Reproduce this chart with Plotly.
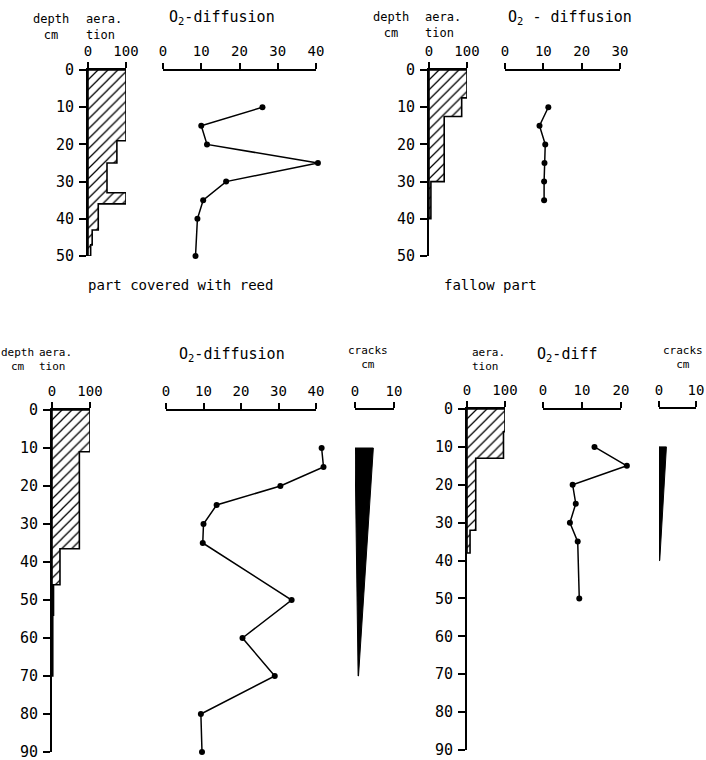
import plotly.graph_objects as go

W, H = 706, 760

# ---------------- data ----------------
depth_ticks_50 = [0, 10, 20, 30, 40, 50]
depth_ticks_90 = [0, 10, 20, 30, 40, 50, 60, 70, 80, 90]
aer_ticks = [0, 100]
o2_ticks_40 = [0, 10, 20, 30, 40]
o2_ticks_30 = [0, 10, 20, 30]
o2_ticks_20 = [0, 10, 20]
crack_ticks = [0, 10]

# Panel A: part covered with reed
a_aer_top = [0, 19, 25, 33, 36, 43, 47]
a_aer_bot = [19, 25, 33, 36, 43, 47, 50]
a_aer_val = [100, 76, 50, 100, 27, 11, 7]
a_o2_depth = [10, 15, 20, 25, 30, 35, 40, 50]
a_o2_val = [26, 10, 11.5, 40.5, 16.5, 10.5, 9, 8.5]

# Panel B: fallow part
b_aer_top = [0, 7.5, 12.5, 30]
b_aer_bot = [7.5, 12.5, 30, 40]
b_aer_val = [100, 86, 40, 5]
b_o2_depth = [10, 15, 20, 25, 30, 35]
b_o2_val = [11.3, 9, 10.5, 10.3, 10.2, 10.2]

# Panel C
c_aer_top = [0, 11, 36.5, 46, 54]
c_aer_bot = [11, 36.5, 46, 54, 70]
c_aer_val = [100, 72, 21, 4, 2]
c_o2_depth = [10, 15, 20, 25, 30, 35, 50, 60, 70, 80, 90]
c_o2_val = [41.5, 42, 30.5, 13.5, 10, 9.8, 33.5, 20.4, 29, 9.3, 9.6]
c_crack_depth = [10, 70]
c_crack_left = [0, 0.8]
c_crack_right = [4.7, 0.9]

# Panel D
d_aer_top = [0, 6, 13, 32]
d_aer_bot = [6, 13, 32, 38]
d_aer_val = [100, 96, 23, 8]
d_o2_depth = [10, 15, 20, 25, 30, 35, 50]
d_o2_val = [13.2, 21.5, 7.6, 8.4, 6.9, 8.9, 9.3]
d_crack_depth = [10, 40]
d_crack_left = [0, 0]
d_crack_right = [2.0, 0.2]

FONT = "DejaVu Sans Mono"


def fx(px):
    return px / W


def fy(py):
    return 1 - py / H


fig = go.Figure()
layout = dict(template="none", width=W, height=H, autosize=False,
              margin=dict(l=0, r=0, t=0, b=0, pad=0, autoexpand=False),
              paper_bgcolor="white", plot_bgcolor="rgba(0,0,0,0)",
              showlegend=False, font=dict(family=FONT, color="black", size=14))

# (px of 0, px of axis max, axis max, range lo, range hi, ticks, y px top, y px bottom, ymax, depth axis?, depth ticks, own line?)
specs = [
    (88, 126, 100, 0, 100, aer_ticks, 70, 256, 50, True, depth_ticks_50, True),      # 1 A aeration
    (163, 316, 40, -1.5, 42.5, o2_ticks_40, 70, 256, 50, False, None, False),      # 2 A O2
    (429, 467, 100, 0, 100, aer_ticks, 70, 256, 50, True, depth_ticks_50, True),    # 3 B aeration
    (505, 620, 30, -1.5, 32, o2_ticks_30, 70, 256, 50, False, None, False),        # 4 B O2
    (52, 90, 100, 0, 100, aer_ticks, 410, 752, 90, True, depth_ticks_90, True),     # 5 C aeration
    (166, 316, 40, -1.5, 44, o2_ticks_40, 410, 752, 90, False, None, False),       # 6 C O2
    (355, 394, 10, 0, 10, crack_ticks, 410, 752, 90, False, None, True),           # 7 C cracks
    (467, 505, 100, 0, 100, aer_ticks, 409, 750, 90, True, depth_ticks_90, True),   # 8 D aeration
    (543, 621, 20, -1.5, 23.5, o2_ticks_20, 409, 750, 90, False, None, False),     # 9 D O2
    (659, 696, 10, 0, 10, crack_ticks, 409, 750, 90, False, None, True),           # 10 D cracks
]

shapes = []
for i, (p0, p1, amax, lo, hi, xt, y0, y1, ymax, showy, yt, ownline) in enumerate(specs, start=1):
    sfx = "" if i == 1 else str(i)
    scale = (p1 - p0) / amax
    d0 = p0 + lo * scale
    d1 = p0 + hi * scale
    layout["xaxis" + sfx] = dict(
        domain=[fx(d0), fx(d1)], range=[lo, hi], side="top", anchor="y" + sfx,
        automargin=False,
        showline=ownline, linecolor="black", linewidth=1.8, mirror=False,
        ticks="outside", ticklen=6, tickwidth=1.8, tickcolor="black",
        tickvals=xt, showgrid=False, zeroline=False, fixedrange=True,
        tickfont=dict(size=14, family=FONT, color="black"), ticklabelstandoff=1,
        ticklabeloverflow="allow")
    if not ownline:
        shapes.append(dict(type="line", xref="x" + sfx, yref="paper",
                           x0=0, x1=amax, y0=fy(y0), y1=fy(y0),
                           line=dict(color="black", width=1.8)))
    ydict = dict(domain=[fy(y1), fy(y0)], range=[ymax, 0], anchor="x" + sfx,
                 automargin=False,
                 showgrid=False, zeroline=False, fixedrange=True)
    if showy:
        ydict.update(showline=True, linecolor="black", linewidth=1.8,
                     ticks="outside", ticklen=7, tickwidth=1.8, tickcolor="black",
                     tickvals=yt, tickfont=dict(size=15, family=FONT, color="black"),
                     side="left", ticklabelstandoff=2, ticklabeloverflow="allow")
    else:
        ydict.update(visible=False)
    layout["yaxis" + sfx] = ydict


def profile(top, bot, val, ax):
    xs, ys = [0], [top[0]]
    for t, b, v in zip(top, bot, val):
        xs += [v, v]
        ys += [t, b]
    xs += [0, 0]
    ys += [bot[-1], top[0]]
    sfx = "" if ax == 1 else str(ax)
    fig.add_trace(go.Scatter(
        x=xs, y=ys, mode="lines", fill="toself", fillcolor="white",
        fillpattern=dict(shape="/", fgcolor="black", bgcolor="white", size=7, solidity=0.18),
        line=dict(color="black", width=1.6), xaxis="x" + sfx, yaxis="y" + sfx,
        cliponaxis=False, hoverinfo="skip"))


def o2(depth, val, ax):
    sfx = str(ax)
    fig.add_trace(go.Scatter(
        x=val, y=depth, mode="lines+markers",
        line=dict(color="black", width=1.5),
        marker=dict(color="black", size=6),
        xaxis="x" + sfx, yaxis="y" + sfx, cliponaxis=False))


def crack(depth, left, right, ax):
    xs = [left[0], right[0], right[1], left[1], left[0]]
    ys = [depth[0], depth[0], depth[1], depth[1], depth[0]]
    sfx = str(ax)
    fig.add_trace(go.Scatter(
        x=xs, y=ys, mode="lines", fill="toself", fillcolor="black",
        line=dict(color="black", width=1), xaxis="x" + sfx, yaxis="y" + sfx,
        cliponaxis=False, hoverinfo="skip"))


profile(a_aer_top, a_aer_bot, a_aer_val, 1)
o2(a_o2_depth, a_o2_val, 2)
profile(b_aer_top, b_aer_bot, b_aer_val, 3)
o2(b_o2_depth, b_o2_val, 4)
profile(c_aer_top, c_aer_bot, c_aer_val, 5)
o2(c_o2_depth, c_o2_val, 6)
crack(c_crack_depth, c_crack_left, c_crack_right, 7)
profile(d_aer_top, d_aer_bot, d_aer_val, 8)
o2(d_o2_depth, d_o2_val, 9)
crack(d_crack_depth, d_crack_left, d_crack_right, 10)

# (text, x px, y px, xanchor, align, size)
labels = [
    ("depth<br>cm", 51, 27, "center", "center", 12),
    ("aera.<br>tion", 84, 27, "left", "left", 12),
    ("O<sub>2</sub>-diffusion", 222, 18, "center", "center", 15),
    ("depth<br>cm", 391, 25, "center", "center", 12),
    ("aera.<br>tion", 423, 25, "left", "left", 12),
    ("O<sub>2</sub> - diffusion", 570, 18, "center", "center", 15),
    ("part covered with reed", 180, 285, "center", "center", 14),
    ("fallow part", 490, 285, "center", "center", 14),
    ("depth<br>cm", 17, 359, "center", "center", 11),
    ("aera.<br>tion", 37, 359, "left", "left", 11),
    ("O<sub>2</sub>-diffusion", 232, 355, "center", "center", 15),
    ("cracks<br>cm", 368, 357, "center", "center", 11),
    ("aera.<br>tion", 470, 359, "left", "left", 11),
    ("O<sub>2</sub>-diff", 567, 355, "center", "center", 15),
    ("cracks<br>cm", 683, 357, "center", "center", 11),
]
anns = []
for txt, x, y, xa, al, sz in labels:
    anns.append(dict(text=txt, x=fx(x), y=fy(y), xref="paper", yref="paper",
                     xanchor=xa, yanchor="middle", align=al, showarrow=False,
                     font=dict(size=sz, family=FONT, color="black")))
layout["annotations"] = anns
layout["shapes"] = shapes

fig.update_layout(**layout)
fig.write_html(
    "out.html",
    config={"displayModeBar": False},
    post_script="document.body.style.margin='0';document.body.style.padding='0';"
                "document.body.style.overflow='hidden';",
)
